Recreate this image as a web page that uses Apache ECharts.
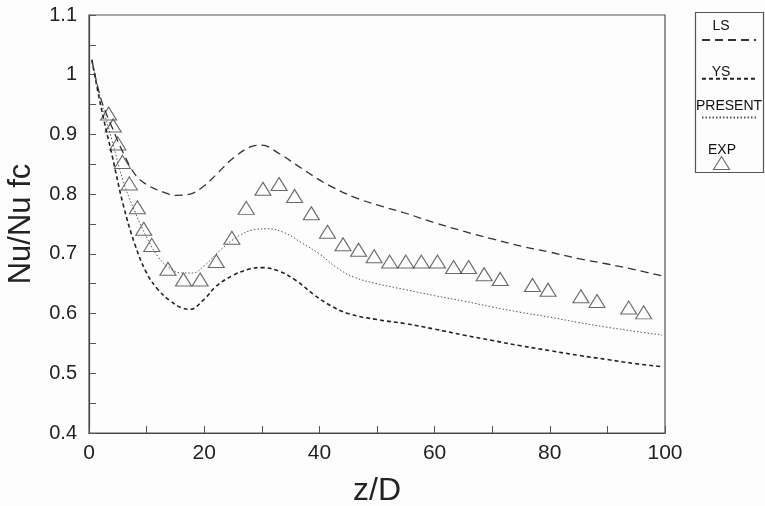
<!DOCTYPE html>
<html>
<head>
<meta charset="utf-8">
<script src="https://cdn.jsdelivr.net/npm/echarts@6/dist/echarts.min.js"></script>
<style>html,body{margin:0;padding:0;background:#fdfdfd;}#c{width:765px;height:506px;}</style>
</head>
<body>
<div id="c"></div>
<script>
// z/D positions and Nu/Nu_fc values
var lsZ   = [0.5, 2, 4, 6, 8, 10, 13, 15, 17.5, 20, 22, 25, 28, 30, 33, 36, 39, 42, 46, 50, 55, 60, 65, 70, 75, 80, 85, 90, 95, 99.5];
var lsVal = [1.025, 0.962, 0.912, 0.868, 0.833, 0.816, 0.803, 0.798, 0.800, 0.814, 0.832, 0.860, 0.879, 0.882, 0.868, 0.849, 0.830, 0.813, 0.795, 0.782, 0.768, 0.752, 0.738, 0.725, 0.713, 0.703, 0.692, 0.683, 0.673, 0.663];

var ysZ   = [0.5, 2, 4, 6, 8, 10, 12, 14, 16, 17.5, 20, 22, 25, 28, 30, 33, 36, 39, 42, 45, 50, 55, 60, 65, 70, 75, 80, 85, 90, 95, 99.5];
var ysVal = [1.025, 0.950, 0.865, 0.780, 0.715, 0.668, 0.640, 0.622, 0.610, 0.607, 0.624, 0.645, 0.664, 0.675, 0.677, 0.671, 0.655, 0.632, 0.613, 0.600, 0.590, 0.583, 0.574, 0.564, 0.555, 0.546, 0.538, 0.530, 0.523, 0.516, 0.511];

var prZ   = [0.5, 2, 4, 6, 8, 10, 12, 14, 16, 18, 20, 23, 26, 29, 31, 34, 37, 40, 43, 46, 50, 55, 60, 65, 70, 75, 80, 85, 90, 95, 99.5];
var prVal = [1.025, 0.960, 0.890, 0.820, 0.770, 0.728, 0.695, 0.676, 0.668, 0.668, 0.680, 0.708, 0.730, 0.741, 0.742, 0.735, 0.718, 0.700, 0.677, 0.661, 0.650, 0.640, 0.630, 0.621, 0.611, 0.602, 0.594, 0.585, 0.577, 0.570, 0.564];

var expZ   = [3.4, 4.2, 5.0, 5.8, 7.0, 8.4, 9.5, 10.9, 13.7, 16.4, 19.3, 22.1, 24.8, 27.3, 30.2, 33.0, 35.7, 38.6, 41.4, 44.1, 46.8, 49.5, 52.2, 55.0, 57.7, 60.5, 63.3, 65.9, 68.6, 71.4, 77.0, 79.7, 85.4, 88.2, 93.7, 96.3];
var expVal = [0.935, 0.915, 0.885, 0.854, 0.818, 0.778, 0.742, 0.715, 0.675, 0.657, 0.657, 0.688, 0.727, 0.777, 0.809, 0.817, 0.797, 0.768, 0.737, 0.716, 0.707, 0.696, 0.687, 0.687, 0.687, 0.687, 0.678, 0.678, 0.666, 0.658, 0.648, 0.640, 0.629, 0.621, 0.610, 0.602];

var xTicks = [0, 20, 40, 60, 80, 100];
var yTicks = [0.4, 0.5, 0.6, 0.7, 0.8, 0.9, 1.0, 1.1];
var legendNames = ['LS', 'YS', 'PRESENT', 'EXP'];

function pairs(a, b) { return a.map(function (v, i) { return [v, b[i]]; }); }

var chart = echarts.init(document.getElementById('c'), null, { renderer: 'canvas' });
var FONT = 'Liberation Sans';
var INK = '#222';
var hiddenSym = { color: 'rgba(0,0,0,0)', borderColor: 'rgba(0,0,0,0)', borderWidth: 0, opacity: 0 };
var LF = '14px "Liberation Sans"';

chart.setOption({
  backgroundColor: '#fdfdfd',
  animation: false,
  grid: { left: 89, right: 100, top: 15, bottom: 73, containLabel: false, outerBoundsMode: 'none',
          show: true, borderColor: '#555', borderWidth: 1.2, backgroundColor: 'transparent' },
  xAxis: {
    type: 'value', min: xTicks[0], max: xTicks[xTicks.length - 1], interval: 20,
    name: 'z/D', nameLocation: 'middle', nameGap: 42,
    nameTextStyle: { fontFamily: FONT, fontSize: 32, color: INK },
    axisLine: { show: true, onZero: false, lineStyle: { color: '#444', width: 1.2 } },
    axisTick: { show: true, inside: true, length: 7, lineStyle: { color: '#555' } },
    minorTick: { show: true, splitNumber: 2, length: 7, lineStyle: { color: '#555' } },
    axisLabel: { fontFamily: FONT, fontSize: 21, color: INK, margin: 10 },
    splitLine: { show: false }
  },
  yAxis: {
    type: 'value', min: yTicks[0], max: yTicks[yTicks.length - 1], interval: 0.1,
    name: 'Nu/Nu fc', nameLocation: 'middle', nameGap: 52,
    nameTextStyle: { fontFamily: FONT, fontSize: 31, color: INK },
    axisLine: { show: true, onZero: false, lineStyle: { color: '#444', width: 1.2 } },
    axisTick: { show: true, inside: true, length: 7, lineStyle: { color: '#555' } },
    minorTick: { show: true, splitNumber: 2, length: 7, lineStyle: { color: '#555' } },
    axisLabel: { fontFamily: FONT, fontSize: 20, color: INK, margin: 12 },
    splitLine: { show: false }
  },
  legend: [
    {
      orient: 'vertical', left: 701, top: 34, padding: 0,
      itemWidth: 54, itemHeight: 12, itemGap: 28, selectedMode: false,
      formatter: function () { return ''; }, textStyle: { fontSize: 1 },
      data: legendNames.slice(0, 3).map(function (n) { return { name: n, itemStyle: hiddenSym }; })
    },
    {
      orient: 'vertical', left: 713, top: 156, padding: 0,
      itemWidth: 16, itemHeight: 13, selectedMode: false,
      formatter: function () { return ''; }, textStyle: { fontSize: 1 },
      data: [{ name: legendNames[3], itemStyle: { color: 'rgba(0,0,0,0)', borderColor: '#444', borderWidth: 1.1 } }]
    }
  ],
  graphic: [
    { type: 'rect', shape: { x: 695.5, y: 12.5, width: 68, height: 160 }, style: { fill: 'none', stroke: '#555', lineWidth: 1.2 }, silent: true },
    { type: 'text', x: 721, y: 26, style: { text: legendNames[0], font: LF, fill: '#111', align: 'center', verticalAlign: 'middle' } },
    { type: 'text', x: 721, y: 72, style: { text: legendNames[1], font: LF, fill: '#111', align: 'center', verticalAlign: 'middle' } },
    { type: 'text', x: 729, y: 106, style: { text: legendNames[2], font: LF, fill: '#111', align: 'center', verticalAlign: 'middle' } },
    { type: 'text', x: 722, y: 150, style: { text: legendNames[3], font: LF, fill: '#111', align: 'center', verticalAlign: 'middle' } }
  ],
  series: [
    { name: 'LS', type: 'line', data: pairs(lsZ, lsVal), smooth: 0.4, showSymbol: false, symbol: 'none',
      lineStyle: { color: '#333', width: 1.3, type: [8, 5] }, itemStyle: { color: '#333' } },
    { name: 'YS', type: 'line', data: pairs(ysZ, ysVal), smooth: 0.4, showSymbol: false, symbol: 'none',
      lineStyle: { color: '#222', width: 1.6, type: [4, 3] }, itemStyle: { color: '#222' } },
    { name: 'PRESENT', type: 'line', data: pairs(prZ, prVal), smooth: 0.4, showSymbol: false, symbol: 'none',
      lineStyle: { color: '#555', width: 1, type: [1.5, 2] }, itemStyle: { color: '#555' } },
    { name: 'EXP', type: 'scatter', data: pairs(expZ, expVal), symbol: 'triangle', symbolSize: [16, 13],
      itemStyle: { color: 'rgba(0,0,0,0)', borderColor: '#444', borderWidth: 1.1 } }
  ]
});
</script>
</body>
</html>
